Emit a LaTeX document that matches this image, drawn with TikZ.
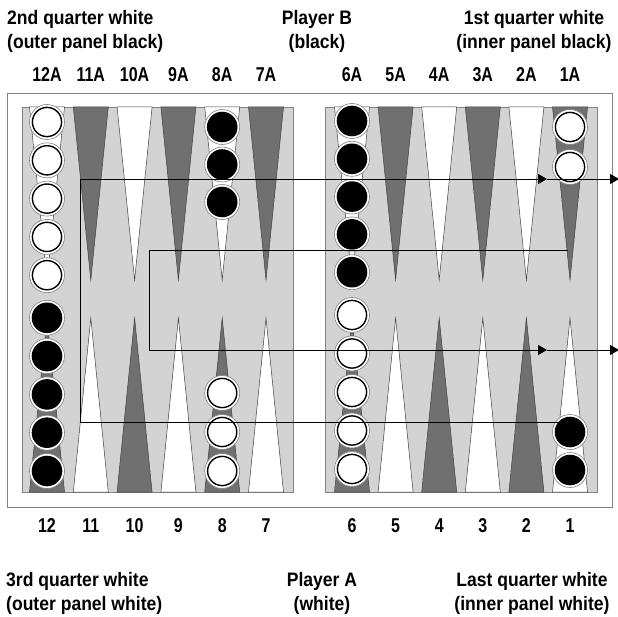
\documentclass[tikz,border=0pt]{standalone}
\usepackage{fontspec}
\setmainfont{Liberation Sans}
\newfontfamily\headfont[FakeStretch=0.9]{Liberation Sans}
\newfontfamily\numfont[FakeStretch=0.8]{Liberation Sans}
\usetikzlibrary{arrows.meta}

\definecolor{panelgray}{RGB}{211,211,211}
\definecolor{pointdark}{RGB}{112,112,112}
\definecolor{framegray}{RGB}{130,130,130}

\begin{document}
\begin{tikzpicture}[
  x=1pt, y=-1pt,
  head/.style={font=\headfont\bfseries\fontsize{19.5}{24}\selectfont, inner sep=0pt},
  num/.style={font=\numfont\bfseries\fontsize{20}{24}\selectfont, inner sep=0pt, anchor=base},
  panel/.style={draw=framegray, line width=0.8pt, fill=panelgray},
  tri/.style={draw=black!75, line width=0.5pt},
  wchk/.style={circle, draw=gray, line width=0.6pt, fill=white, minimum size=35pt, inner sep=0pt,
    path picture={\draw[black, line width=1.4pt] (path picture bounding box.center) circle (14.6pt);}},
  bchk/.style={circle, draw=gray, line width=0.6pt, fill=white, minimum size=35pt, inner sep=0pt,
    path picture={\fill[black] (path picture bounding box.center) circle (15.3pt);}},
  route/.style={line width=0.9pt, -{Triangle[length=9pt,width=10pt]}}
]
\useasboundingbox (0,0) rectangle (618,617);

% board
\draw[draw=framegray, line width=0.9pt, fill=white] (7,93) rectangle (612,507);
\draw[panel] (22,107) rectangle (293,492);
\draw[panel] (325,107) rectangle (597,492);

% points
\foreach \x in {47,134.6,222.2,352,439.2,526.4} {
  \filldraw[tri, fill=white] ({\x-17.5},107) -- (\x,280) -- ({\x+17.5},107) -- cycle;
  \filldraw[tri, fill=pointdark] ({\x-17.5},492) -- (\x,318) -- ({\x+17.5},492) -- cycle;
}
\foreach \x in {90.8,178.4,266,395.6,482.8,570} {
  \filldraw[tri, fill=pointdark] ({\x-17.5},107) -- (\x,280) -- ({\x+17.5},107) -- cycle;
  \filldraw[tri, fill=white] ({\x-17.5},492) -- (\x,318) -- ({\x+17.5},492) -- cycle;
}

% checkers
\foreach \k in {0,...,4} {
  \node[wchk] (w12a-\k) at (47,{122+38.3*\k}) {};
  \node[bchk] (b12-\k) at (47,{471-38.3*\k}) {};
  \node[bchk] (b6a-\k) at (352,{121+37.8*\k}) {};
  \node[wchk] (w6-\k) at (352,{469-38.5*\k}) {};
}
\foreach \k in {0,1,2} {
  \node[bchk] (b8a-\k) at (222.2,{127+37.5*\k}) {};
  \node[wchk] (w8-\k) at (222.2,{471-39*\k}) {};
}
\foreach \k in {0,1} {
  \node[wchk] (w1a-\k) at (570,{127+40*\k}) {};
  \node[bchk] (b1-\k) at (570,{470-38*\k}) {};
}

% routes
\coordinate (outA) at (570,422);
\coordinate (outB) at (80,422);
\coordinate (outC) at (80,179);
\coordinate (outM) at (547,179);
\coordinate (outE) at (619,179);
\coordinate (inA) at (568,250);
\coordinate (inB) at (149,250);
\coordinate (inC) at (149,350);
\coordinate (inM) at (547,350);
\coordinate (inE) at (619,350);
\draw[route] (outA) -- (outB) -- (outC) -- (outM);
\draw[route] (outM) -- (outE);
\draw[route] (inA) -- (inB) -- (inC) -- (inM);
\draw[route] (inM) -- (inE);

% point labels
\foreach \x/\t [count=\i] in {47/12,90.8/11,134.6/10,178.4/9,222.2/8,266/7,352/6,395.6/5,439.2/4,482.8/3,526.4/2,570/1} {
  \node[num] (top\i) at (\x,82) {\t A};
  \node[num] (bot\i) at (\x,532) {\t};
}

% headings (base = last line)
\node[head, anchor=base west, align=left] (q2) at (7,49) {2nd quarter white\\(outer panel black)};
\node[head, anchor=base, align=center] (plB) at (317,49) {Player B\\(black)};
\node[head, anchor=base, align=center] (q1) at (534,49) {1st quarter white\\(inner panel black)};
\node[head, anchor=base west, align=left] (q3) at (6,610) {3rd quarter white\\(outer panel white)};
\node[head, anchor=base, align=center] (plA) at (322,610) {Player A\\(white)};
\node[head, anchor=base, align=center] (q4) at (532,610) {Last quarter white\\(inner panel white)};
\end{tikzpicture}
\end{document}
